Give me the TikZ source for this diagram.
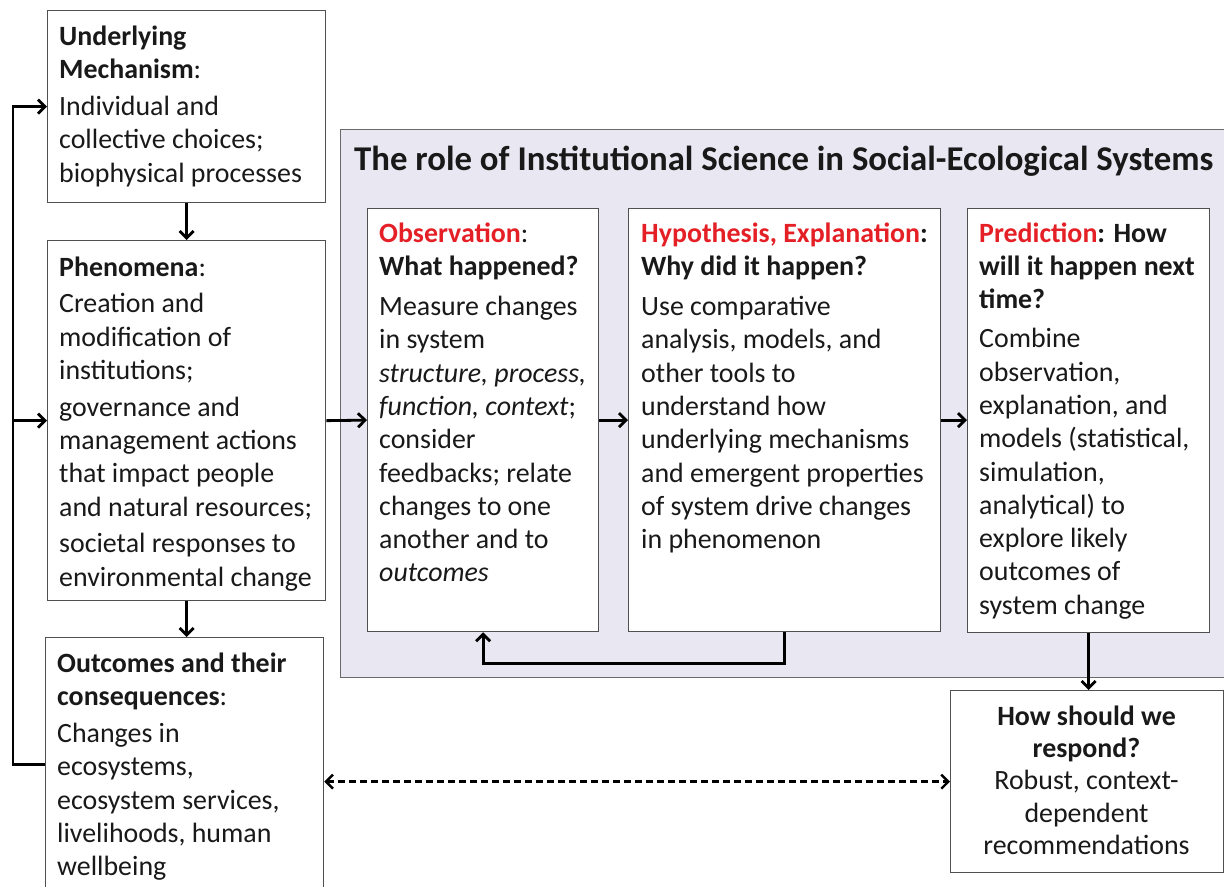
\documentclass[tikz,border=0pt]{standalone}
\usepackage{fontspec}
\setmainfont{Carlito}
\usetikzlibrary{arrows.meta}
\definecolor{txt}{RGB}{25,25,25}
\definecolor{redt}{RGB}{228,32,38}
\definecolor{grayfill}{RGB}{233,231,241}
\definecolor{boxline}{RGB}{80,80,80}
\begin{document}
\begin{tikzpicture}[x=1bp,y=-1bp,
  box/.style={draw=boxline, line width=1.3bp, fill=white, anchor=north west, inner sep=0pt},
  panel/.style={draw=boxline!85, line width=1.2bp, fill=grayfill, anchor=north west, inner sep=0pt},
  bodytext/.style={anchor=north west, inner sep=0pt, align=left, text=txt,
    font=\fontsize{28}{33.4}\selectfont},
  centertext/.style={anchor=north, inner sep=0pt, align=center, text=txt,
    font=\fontsize{28}{32.5}\selectfont},
  arr/.style={line width=2.8bp, -{Straight Barb[length=7bp,width=14bp]}},
  dasharr/.style={line width=2.4bp, dash pattern=on 7bp off 4bp,
    {Straight Barb[length=7bp,width=14bp]}-{Straight Barb[length=7bp,width=14bp]}}
]
\useasboundingbox (0,0) rectangle (1224,887);
\fill[white] (0,0) rectangle (1224,887);

% panel
\node[panel, minimum width=890bp, minimum height=548bp] (panel) at (340,129) {};
\node[anchor=base west, inner sep=0pt, text=txt, font=\fontsize{34.9}{40}\selectfont\bfseries] (title) at (354,170)
  {The role of Institutional Science in Social-Ecological Systems};

% boxes
\node[box, minimum width=278bp, minimum height=192bp] (um) at (47,10) {};
\node[box, minimum width=278bp, minimum height=360bp] (phen) at (47,240) {};
\node[box, minimum width=278bp, minimum height=253bp] (out) at (45,637) {};
\node[box, minimum width=231bp, minimum height=423bp] (obs) at (367,208) {};
\node[box, minimum width=312bp, minimum height=423bp] (hyp) at (628,208) {};
\node[box, minimum width=242bp, minimum height=424bp] (pred) at (967,208) {};
\node[box, minimum width=273bp, minimum height=182bp] (resp) at (950,690) {};

% texts
\node[bodytext] (umt) at (59,21.6) {\strut\textbf{Underlying}\\\textbf{Mechanism}:\\[4bp]Individual and\\collective choices;\\biophysical processes};
\node[bodytext] (phent) at (59,252.6) {\strut\textbf{Phenomena}:\\[3.5bp]Creation and\\modification of\\institutions;\\[3.5bp]governance and\\management actions\\that impact people\\and natural resources;\\[3.5bp]societal responses to\\environmental change};
\node[bodytext] (outt) at (57,648.6) {\strut\textbf{Outcomes and their}\\\textbf{consequences}:\\[4bp]Changes in\\ecosystems,\\ecosystem services,\\livelihoods, human\\wellbeing};
\node[bodytext] (obst) at (379,218.6) {\strut\textcolor{redt}{\textbf{Observation}}:\\\textbf{What happened?}\\[7bp]Measure changes\\in system\\\textit{structure, process,}\\\textit{function, context};\\consider\\feedbacks; relate\\changes to one\\another and to\\\textit{outcomes}};
\node[bodytext] (hypt) at (641,218.6) {\strut\textcolor{redt}{\textbf{Hypothesis, Explanation}}\textbf{:}\\\textbf{Why did it happen?}\\[7bp]Use comparative\\analysis, models, and\\other tools to\\understand how\\underlying mechanisms\\and emergent properties\\of system drive changes\\in phenomenon};
\node[bodytext] (predt) at (979,218.6) {\strut\textcolor{redt}{\textbf{Prediction}}\textbf{: How}\\\textbf{will it happen next}\\\textbf{time?}\\[6bp]Combine\\observation,\\explanation, and\\models (statistical,\\simulation,\\analytical) to\\explore likely\\outcomes of\\system change};
\node[centertext] (respt) at (1086.5,702.2) {\strut\textbf{How should we}\\\textbf{respond?}\\Robust, context-\\dependent\\recommendations};

% connectors
\coordinate (lx) at (13,0);
\draw[arr] (um.south) -- (um.south |- phen.north);
\draw[arr] (phen.south) -- (phen.south |- out.north);
\draw[arr] (out.west) -- (out.west -| lx) |- (um.west);
\draw[arr] (lx |- phen.west) -- (phen.west);
\draw[arr] (phen.east) -- (obs.west);
\draw[arr] (obs.east) -- (obs.east -| hyp.west);
\draw[arr] (hyp.east) -- (hyp.east -| pred.west);
\draw[arr] (hyp.south) -- ++(0,31) -| (obs.south);
\draw[arr] (pred.south) -- (pred.south |- resp.north);
\draw[dasharr] (out.east |- resp.west) -- (resp.west);
\end{tikzpicture}
\end{document}
